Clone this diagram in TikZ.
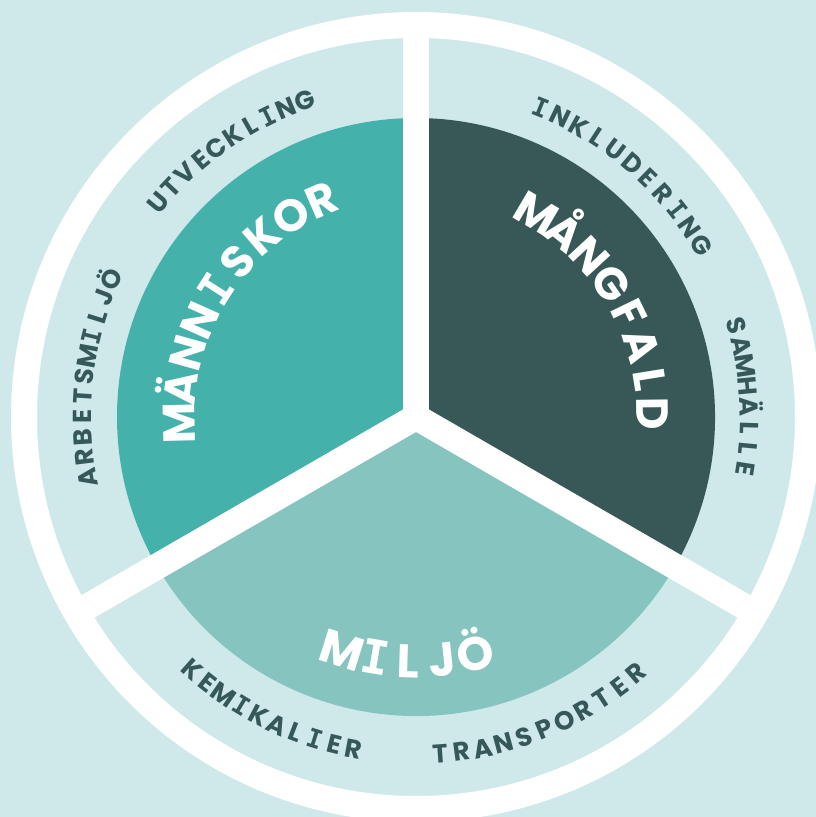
\documentclass[tikz,border=0pt]{standalone}
\usepackage{fontspec}
\setmainfont{Poppins}
\newfontfamily\monofam{DejaVu Sans Mono}
\usetikzlibrary{calc}
\definecolor{bgc}{HTML}{CFE9EA}
\definecolor{mann}{HTML}{44B1AA}
\definecolor{mang}{HTML}{385757}
\definecolor{milj}{HTML}{86C4BF}
\definecolor{txt}{HTML}{375858}
\newcommand\smallfont{\fontsize{26}{26}\selectfont\bfseries}
\newcommand\bigfont{\fontsize{45}{45}\selectfont\bfseries}
\newcommand\bigfontb{\fontsize{47}{47}\selectfont\bfseries}
\newcommand\II{{\monofam\bfseries I}}
\newlength\arcw
% #1 font, #2 colour, #3 baseline radius, #4 first angle, #5 last angle, #6 letters, #7 id
\newcommand\arclabel[7]{%
  \xdef\arcsum{0}\xdef\arcn{0}%
  \foreach \c in {#6}{%
    \settowidth{\arcw}{#1\c}%
    \pgfmathsetmacro\tmp{\arcsum+\arcw}\xdef\arcsum{\tmp}%
    \ifnum\arcn=0 \xdef\arcfirst{\the\arcw}\fi
    \xdef\arclast{\the\arcw}%
    \pgfmathtruncatemacro\tmp{\arcn+1}\xdef\arcn{\tmp}%
  }%
  \pgfmathsetmacro\arcsgn{sign(#5-#4)}%
  \pgfmathsetmacro\arctrk{(abs(#5-#4)*pi/180*#3-(\arcsum-\arcfirst/2-\arclast/2))/(\arcn-1)}%
  \pgfmathsetmacro\tmp{-\arcfirst/2}\xdef\arcpos{\tmp}%
  \foreach \c [count=\i] in {#6}{%
    \settowidth{\arcw}{#1\c}%
    \pgfmathsetmacro\arcang{#4+\arcsgn*(\arcpos+\arcw/2)/#3*180/pi}%
    \pgfmathsetmacro\arcrot{\arcang+\arcsgn*90}%
    \node[letter, text=#2, font=#1, rotate=\arcrot] (#7\i) at ($(C)+(\arcang:#3)$) {\c};
    \pgfmathsetmacro\tmp{\arcpos+\arcw+\arctrk}\xdef\arcpos{\tmp}%
  }%
}
\begin{document}
\begin{tikzpicture}[x=1pt,y=1pt,
  letter/.style={anchor=base, inner sep=0pt, outer sep=0pt},
  divider/.style={draw=white, line width=26pt}]
\useasboundingbox (0,0) rectangle (816,817);
\clip (0,0) rectangle (816,817);
\fill[bgc] (0,0) rectangle (816,817);
\coordinate (C) at (416,400);
% sectors
\fill[mann] (C) -- ($(C)+(90:299)$) arc[start angle=90, end angle=210, radius=299] -- cycle;
\fill[mang] (C) -- ($(C)+(-30:299)$) arc[start angle=-30, end angle=90, radius=299] -- cycle;
\fill[milj] (C) -- ($(C)+(210:299)$) arc[start angle=210, end angle=330, radius=299] -- cycle;
% ring
\draw[white, line width=26pt] (C) circle[radius=392];
% dividers
\coordinate (e1) at ($(C)+(90:392)$);
\coordinate (e2) at ($(C)+(210:392)$);
\coordinate (e3) at ($(C)+(330:392)$);
\draw[divider] (C) -- (e1);
\draw[divider] (C) -- (e2);
\draw[divider] (C) -- (e3);
\fill[white] (C) circle[radius=13];
% big labels
\arclabel{\bigfont}{white}{221}{181.4}{113.4}{M,Ä,N,N,\II,S,K,O,R}{mn}
\arclabel{\bigfont}{white}{221}{59.5}{0.7}{M,Å,N,G,F,A,L,D}{mg}
\arclabel{\bigfontb}{white}{261}{252.5}{284}{M,\II,L,J,Ö}{mj}
% small labels
\arclabel{\smallfont}{txt}{326}{140.3}{109.4}{U,T,V,E,C,K,L,\II,N,G}{ut}
\arclabel{\smallfont}{txt}{325}{190.4}{155.6}{A,R,B,E,T,S,M,\II,L,J,Ö}{ar}
\arclabel{\smallfont}{txt}{324}{68.1}{31.0}{\II,N,K,L,U,D,E,R,\II,N,G}{in}
\arclabel{\smallfont}{txt}{324}{15.9}{-8.9}{S,A,M,H,Ä,L,L,E}{sa}
\arclabel{\smallfont}{txt}{347}{228.5}{259.4}{K,E,M,\II,K,A,L,\II,E,R}{ke}
\arclabel{\smallfont}{txt}{347}{274.1}{310.7}{T,R,A,N,S,P,O,R,T,E,R}{tr}
\end{tikzpicture}
\end{document}
